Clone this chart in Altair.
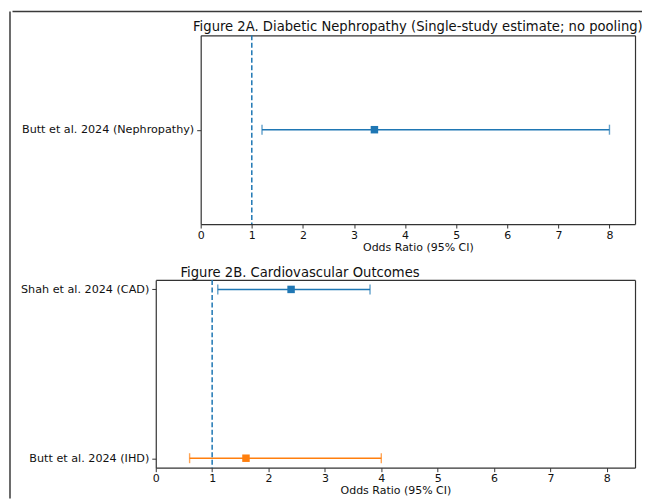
import altair as alt
import pandas as pd

# ---- data ----
a_studies = ["Butt et al. 2024 (Nephropathy)"]
a_or = [3.4]
a_lo = [1.2]
a_hi = [8.0]
a_colors = ["#1f77b4"]

b_studies = ["Shah et al. 2024 (CAD)", "Butt et al. 2024 (IHD)"]
b_or = [2.4, 1.6]
b_lo = [1.1, 0.6]
b_hi = [3.8, 4.0]
b_colors = ["#1f77b4", "#ff7f0e"]

x_ticks = [0, 1, 2, 3, 4, 5, 6, 7, 8]
x_domain = [0, 8.5]
ref_value = [1]

FONT = "DejaVu Sans"
FRAME = "#3a3a3a"
AX = "#333333"
TXT = "#111111"
W = 480


def panel(studies, ors, los, his, colors, title, height, x_off, pad,
          title_dx, title_dy, extra=None):
    df = pd.DataFrame({"study": studies, "or": ors, "lo": los, "hi": his, "color": colors})
    xs = alt.Scale(domain=x_domain, range=[x_off, W], nice=False, zero=False)
    ys = alt.Scale(type="point", padding=pad, domain=studies)
    xax = alt.Axis(values=x_ticks, format="d", title="Odds Ratio (95% CI)", orient="bottom",
                   grid=False, domainColor=AX, domainWidth=1.2, tickColor=AX, tickSize=4,
                   tickWidth=1, labelPadding=1, titlePadding=1, labelFontSize=11,
                   labelFlush=False, labelOverlap=False,
                   titleFontSize=11, titleFontWeight="normal", labelColor=TXT,
                   titleColor=TXT, labelFont=FONT, titleFont=FONT)
    yax = alt.Axis(orient="left", offset=-x_off, title=None, grid=False, domainColor=AX,
                   domainWidth=1.2, tickColor=AX, tickSize=4, tickWidth=1, labelPadding=3,
                   labelFontSize=11.2, labelColor=TXT, labelFont=FONT, labelLimit=500)
    xtop = alt.Axis(orient="top", domain=True, ticks=False, labels=False, title=None,
                    grid=False, domainColor=AX, domainWidth=1.2)
    yright = alt.Axis(orient="right", domain=True, ticks=False, labels=False, title=None,
                      grid=False, domainColor=AX, domainWidth=1.2)
    col = alt.Color("color:N", scale=None)
    base = alt.Chart(df)

    ci = base.mark_rule(strokeWidth=1.5).encode(
        x=alt.X("lo:Q", scale=xs, axis=xax), x2="hi:Q",
        y=alt.Y("study:N", scale=ys, axis=yax), color=col)
    ref = alt.Chart(pd.DataFrame({"x": ref_value})).mark_rule(
        color="#1f77b4", strokeDash=[5, 2.5], strokeWidth=1.5
    ).encode(x=alt.X("x:Q", scale=xs, axis=None))
    cap_lo = base.mark_tick(orient="vertical", size=10, thickness=1.4).encode(
        x=alt.X("lo:Q", scale=xs, axis=None), y=alt.Y("study:N", scale=ys, axis=None), color=col)
    cap_hi = base.mark_tick(orient="vertical", size=10, thickness=1.4).encode(
        x=alt.X("hi:Q", scale=xs, axis=None), y=alt.Y("study:N", scale=ys, axis=None), color=col)
    pts = base.mark_square(size=56, opacity=1).encode(
        x=alt.X("or:Q", scale=xs, axis=None), y=alt.Y("study:N", scale=ys, axis=None), color=col)
    box = base.mark_point(opacity=0).encode(
        x=alt.X("or:Q", scale=xs, axis=xtop), y=alt.Y("study:N", scale=ys, axis=yright))

    layers = [ci, ref, cap_lo, cap_hi, pts, box]
    if extra is not None:
        layers.append(extra)
    return alt.layer(*layers).resolve_axis(x="independent", y="independent").properties(
        width=W, height=height,
        title=alt.TitleParams(title, anchor="middle", frame="group", offset=4, dx=title_dx,
                              dy=title_dy, baseline="alphabetic", fontSize=13.2,
                              fontWeight="normal", font=FONT, color=TXT),
    )


fdf = pd.DataFrame({"k": [0]})
# top border of the framed figure (drawn with panel A)
top_border = alt.Chart(fdf).mark_rule(color=FRAME, strokeWidth=1.5).encode(
    x=alt.value(-143.5), x2=alt.value(487), y=alt.value(-24))
# left border of the framed figure
left_border = alt.Chart(fdf).mark_rule(color=FRAME, strokeWidth=1.5).encode(
    x=alt.value(0), y=alt.value(-24), y2=alt.value(464)).properties(width=1, height=1)

A = panel(a_studies, a_or, a_lo, a_hi, a_colors,
          "Figure 2A. Diabetic Nephropathy (Single-study estimate; no pooling)",
          189, 45, 0.5, 22.5, 37.5, extra=top_border)
B = panel(b_studies, b_or, b_lo, b_hi, b_colors,
          "Figure 2B. Cardiovascular Outcomes",
          188, 0, 0.056, -95.5, 15)

chart = alt.hconcat(left_border, alt.vconcat(A, B, spacing=14), spacing=0).properties(
    padding={"left": 1, "top": 2, "right": 0, "bottom": 0}
).configure_view(strokeWidth=0)

chart.save("out.html", embed_options={"renderer": "svg", "actions": False})
